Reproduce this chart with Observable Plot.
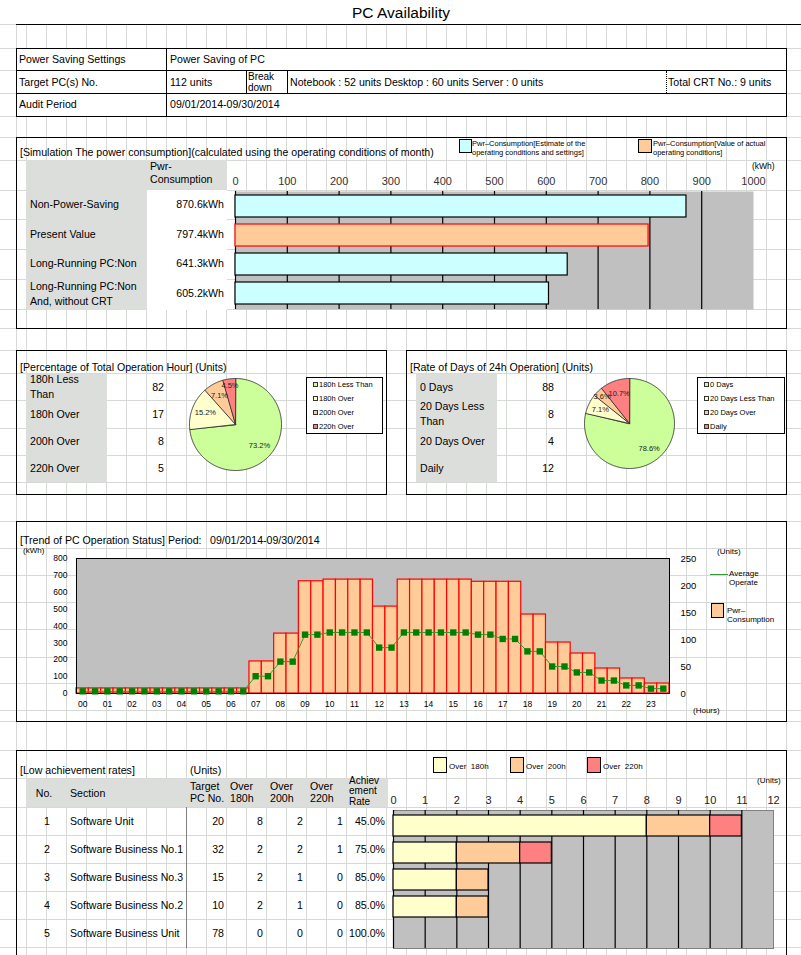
<!DOCTYPE html>
<html><head><meta charset="utf-8">
<script src="https://cdn.jsdelivr.net/npm/d3@7"></script>
<script src="https://cdn.jsdelivr.net/npm/@observablehq/plot@0.6"></script>
<style>
html,body{margin:0;padding:0;background:#fff;}
#page{position:relative;width:801px;height:955px;overflow:hidden;}
</style></head>
<body><div id="page"></div>
<script>
// ---------------- DATA ----------------
const headerLabels = ["Power Saving Settings","Target PC(s) No.","Audit Period"];
const headerValues = ["Power Saving of PC","112 units","09/01/2014-09/30/2014"];
const breakdownText = "Notebook : 52 units Desktop : 60 units Server : 0 units";
const crtText = "Total CRT No.: 9 units";

const simCategories = ["Non-Power-Saving","Present Value","Long-Running PC:Non","Long-Running PC:Non\nAnd, without CRT"];
const simValues = [870.6, 797.4, 641.3, 605.2];
const simKinds = ["estimate","actual","estimate","estimate"];
const simTicks = [0,100,200,300,400,500,600,700,800,900,1000];
const simGrid = [0,100,200,300,400,500,600,700,800,900];

const hourCategories = ["180h Less Than","180h Over","200h Over","220h Over"];
const hourTableLabels = ["180h Less\nThan","180h Over","200h Over","220h Over"];
const hourUnits = [82,17,8,5];
const dayCategories = ["0 Days","20 Days Less Than","20 Days Over","Daily"];
const dayTableLabels = ["0 Days","20 Days Less\nThan","20 Days Over","Daily"];
const dayUnits = [88,8,4,12];

const trendHours = ["00","01","02","03","04","05","06","07","08","09","10","11","12","13","14","15","16","17","18","19","20","21","22","23"];
const trendKwh = [30,30,30,30,30,30,30,30,30,30,30,30,30,30,190,190,355,355,665,665,675,675,675,675,515,515,675,675,675,675,675,675,662,662,662,662,468,468,302,302,237,237,148,148,89,89,59,59];
const trendUnits = [4,4,4,4,4,4,4,4,4,4,4,4,4,4,32,32,59,59,109,109,113,113,113,113,85,85,113,113,113,113,113,113,109,109,101,101,78,78,50,50,39,39,24,24,15,15,9,9];
const kwhTicks = [0,100,200,300,400,500,600,700,800];
const unitAxisTicks = [0,50,100,150,200,250];

const sectionNos = [1,2,3,4,5];
const sectionNames = ["Software Unit","Software Business No.1","Software Business No.3","Software Business No.2","Software Business Unit"];
const targetPCs = [20,32,15,10,78];
const over180 = [8,2,2,2,0];
const over200 = [2,2,1,1,0];
const over220 = [1,1,0,0,0];
const achievementRates = ["45.0%","75.0%","85.0%","85.0%","100.0%"];
const overLabels = ["Over 180h","Over 200h","Over 220h"];
const achTicks = [0,1,2,3,4,5,6,7,8,9,10,11,12];

// ---------------- STYLE ----------------
const C_CYAN="#ccffff", C_ORANGE="#ffcc99", C_RED="#ff8080", C_GREEN="#ccff99", C_YELLOW="#ffffcc";
const C_PLOTBG="#c0c0c0", C_CELL="#dcdedc", C_GRID="#d6d9d6";
const pieColors=[C_GREEN,C_YELLOW,C_ORANGE,C_RED];
const overColors=[C_YELLOW,C_ORANGE,C_RED];

function hasFont(name){const c=document.createElement("canvas").getContext("2d");const s="abcdefghijklmnopqrstuvwxyz ABCDEFG0123456789";c.font="20px monospace";const a=c.measureText(s).width;c.font=`20px "${name}", monospace`;return Math.abs(c.measureText(s).width-a)>0.5;}
const NARROW=hasFont("Liberation Sans Narrow");
const F=NARROW?'"Liberation Sans Narrow", "Liberation Sans", sans-serif':'"Liberation Sans", Arial, sans-serif';
const FS=NARROW?12:10.6;
const FSM='"Liberation Sans", Arial, sans-serif';

const page=document.getElementById("page");
function div(x,y,w,h,css){const e=document.createElement("div");Object.assign(e.style,{position:"absolute",left:x+"px",top:y+"px",width:w+"px",height:h+"px",boxSizing:"border-box"},css||{});page.appendChild(e);return e;}
// y = vertical centre of the FIRST line
function txt(x,y,s,o){o=o||{};const size=o.size||FS,lh=o.lh||Math.round(size*1.2);const e=document.createElement("div");
  Object.assign(e.style,{position:"absolute",left:x+"px",top:(y-lh/2)+"px",font:`${size}px ${o.family||F}`,lineHeight:lh+"px",whiteSpace:"pre",color:o.color||"#000",textAlign:o.align||"left",transform:o.align==="right"?"translateX(-100%)":o.align==="center"?"translateX(-50%)":"none"});
  e.textContent=s;page.appendChild(e);return e;}
function mount(x,y,svg){const d=document.createElement("div");Object.assign(d.style,{position:"absolute",left:x+"px",top:y+"px"});d.appendChild(svg);page.appendChild(d);}
const plotStyle={background:"transparent",fontFamily:FSM,overflow:"visible",maxWidth:"none"};

// ---------------- SPREADSHEET GRID ----------------
const gridYs=[24,48,70,93,116,137,160,190,219,249,279,309,328,350,373,400,428,455,482,494,521,548,575,602,629,657,683,710,721,750,778,807,835,863,891,919,947];
gridYs.forEach(y=>div(0,y,801,1,{background:C_GRID}));
[16].concat(d3.range(26,801,20)).forEach(x=>div(x,24,1,931,{background:C_GRID}));

// ---------------- TITLE ----------------
txt(401,12,"PC Availability",{size:15.5,align:"center",family:FSM});
div(16,24,785,1,{background:"#000"});

// ---------------- HEADER TABLE ----------------
div(16,48,771,69,{background:"#fff",border:"1px solid #000"});
div(16,70,771,1,{background:"#000"});div(16,93,771,1,{background:"#000"});
div(166,48,1,69,{background:"#000"});
div(246,70,1,23,{background:"#000"});div(287,70,1,23,{background:"#000"});
div(666,71,1,22,{borderLeft:"1px dotted #000"});
[59.5,82,104.5].forEach((y,i)=>{txt(19,y,headerLabels[i]);txt(170,y,headerValues[i]);});
txt(248,76.5,"Break\ndown",{size:10,lh:11});
txt(290,82,breakdownText);
txt(668,82,crtText);

// ---------------- SIMULATION ----------------
div(16,137,771,192,{border:"1px solid #000"});
txt(20,152,"[Simulation The power consumption](calculated using the operating conditions of month)");
div(459,139,13,14,{background:C_CYAN,border:"1px solid #000"});
txt(472,143.5,"Pwr–Consumption[Estimate of the\noperating conditions and settings]",{size:7.5,lh:9,family:FSM});
div(638,139,14,14,{background:C_ORANGE,border:"1px solid #000"});
txt(653,143.5,"Pwr–Consumption[Value of actual\noperating conditions]",{size:7.5,lh:9,family:FSM});
txt(752,166,"(kWh)",{size:8.5,family:FSM});
div(26,160,201,30,{background:C_CELL});
txt(150,166.5,"Pwr-\nConsumption",{lh:13});
div(26,190,121,120,{background:C_CELL});
div(147,190,80,120,{background:"#fff"});
simCategories.forEach((c,i)=>{const y=204.5+i*29.7;const multi=c.includes("\n");txt(30,multi?y-7.5:y,c,{lh:15});txt(224,y,simValues[i].toFixed(1)+"kWh",{align:"right"});});

const simData=simCategories.map((c,i)=>({cat:c,value:simValues[i],kind:simKinds[i]}));
mount(200,155,Plot.plot({
  width:580,height:160,marginLeft:35,marginRight:27,marginTop:36,marginBottom:6,
  style:plotStyle,
  x:{domain:[0,1000],label:null},
  y:{domain:simCategories,paddingInner:0.24,paddingOuter:0.15,axis:null,label:null},
  marks:[
    Plot.frame({fill:C_PLOTBG,stroke:"none"}),
    Plot.ruleX(simGrid,{stroke:"#000",strokeWidth:1.2}),
    Plot.barX(simData,{x:"value",y:"cat",fill:d=>d.kind==="actual"?C_ORANGE:C_CYAN,stroke:d=>d.kind==="actual"?"#ff0000":"#000",strokeWidth:1.2}),
    Plot.axisX(simTicks,{anchor:"top",tickSize:0,tickPadding:7,fontSize:11,fill:"#333",tickFormat:d=>String(d),label:null})
  ]
}));

// ---------------- PIES ----------------
function pieSection(bx,bw,title,labels,units,cats,cx,cy,r,legendX,legendW){
  div(bx,350,bw,145,{border:"1px solid #000"});
  txt(bx+4,367,title);
  div(bx+10,374,81,108,{background:C_CELL});
  const ys=[387,414,441,468];
  labels.forEach((l,i)=>{const multi=l.includes("\n");txt(bx+14,multi?ys[i]-7.5:ys[i],l,{lh:15});txt(bx+148,ys[i],String(units[i]),{align:"right"});});
  const total=d3.sum(units);
  const arcs=d3.pie().sort(null)(units);
  const pts=[],lab=[];
  arcs.forEach((a,i)=>{
    pts.push({k:i,x:0,y:0});
    const span=a.endAngle-a.startAngle;
    const n=Math.max(2,Math.ceil(span*180/Math.PI));
    for(let j=0;j<=n;j++){const t=a.startAngle+span*j/n;pts.push({k:i,x:Math.sin(t),y:Math.cos(t)});}
    const m=(a.startAngle+a.endAngle)/2;
    const rr=span<0.3?0.86:span<0.5?0.72:0.7;
    lab.push({x:rr*Math.sin(m),y:rr*Math.cos(m),t:(units[i]/total*100).toFixed(1)+"%"});
  });
  const S=2*r+10;
  mount(cx-S/2,cy-S/2,Plot.plot({
    width:S,height:S,margin:5,style:plotStyle,
    x:{domain:[-1,1],axis:null},y:{domain:[-1,1],axis:null},
    color:{type:"identity"},
    marks:[
      Plot.line(pts,{x:"x",y:"y",z:"k",fill:d=>pieColors[d.k],stroke:"#333",strokeWidth:0.9,curve:"linear-closed"}),
      Plot.text(lab,{x:"x",y:"y",text:"t",fontSize:7.5,fill:"#222"})
    ]
  }));
  div(legendX,377,legendW,57,{background:"#fff",border:"1px solid #000"});
  cats.forEach((c,i)=>{const y=384+i*14;div(legendX+7,y-2.5,5,5,{background:pieColors[i],border:"1px solid #333"});txt(legendX+13,y,c,{size:7.5,family:FSM});});
}
pieSection(16,371,"[Percentage of Total Operation Hour] (Units)",hourTableLabels,hourUnits,hourCategories,235,424,46,306,77);
pieSection(406,381,"[Rate of Days of 24h Operation] (Units)",dayTableLabels,dayUnits,dayCategories,629,423,45,697,88);

// ---------------- TREND ----------------
div(16,521,771,201,{border:"1px solid #000"});
txt(20,540,"[Trend of PC Operation Status] Period:");
txt(210,540,"09/01/2014-09/30/2014");
txt(23,551,"(kWh)",{size:8,family:FSM});
txt(717,552,"(Units)",{size:8,family:FSM});
div(710,574,18,1,{background:"#339933"});
txt(729,573,"Average\nOperate",{size:8,lh:9,family:FSM});
div(711,603,13,15,{background:C_ORANGE,border:"1px solid #000"});
txt(727,610,"Pwr–\nConsumption",{size:8,lh:9,family:FSM});
txt(693,711,"(Hours)",{size:8,family:FSM});

const UNIT_TO_KWH=800/250;
const trendData=trendKwh.map((v,i)=>({slot:i,kwh:v,units:trendUnits[i]}));
mount(16,545,Plot.plot({
  width:700,height:175,marginLeft:60,marginRight:47,marginTop:13,marginBottom:27,
  style:plotStyle,
  x:{domain:[0,48],axis:null,label:null},
  y:{domain:[0,800],axis:null,label:null},
  marks:[
    Plot.frame({fill:C_PLOTBG,stroke:"none"}),
    Plot.rectY(trendData,{x1:"slot",x2:d=>d.slot+1,y:"kwh",fill:C_ORANGE,stroke:"#ff0000",strokeWidth:1.2}),
    Plot.frame({stroke:"#000",strokeWidth:1}),
    Plot.line(trendData,{x:d=>d.slot+0.5,y:d=>d.units*UNIT_TO_KWH,stroke:"#339933",strokeWidth:1}),
    Plot.dot(trendData,{x:d=>d.slot+0.5,y:d=>d.units*UNIT_TO_KWH,symbol:"square",r:3.6,fill:"#008000",stroke:"none"}),
    Plot.axisY(kwhTicks,{anchor:"left",tickSize:0,tickPadding:9,fontSize:8.5,label:null}),
    Plot.axisY(unitAxisTicks.map(u=>u*UNIT_TO_KWH),{anchor:"right",tickSize:0,tickPadding:11,fontSize:9.5,tickFormat:d=>String(Math.round(d/UNIT_TO_KWH)),label:null}),
    Plot.axisX(trendHours.map((h,i)=>i*2+0.5),{anchor:"bottom",tickSize:0,tickPadding:7,fontSize:8.5,tickFormat:d=>trendHours[(d-0.5)/2],label:null})
  ]
}));

// ---------------- LOW ACHIEVEMENT ----------------
div(16,750,771,215,{border:"1px solid #000"});
txt(20,770,"[Low achievement rates]");
txt(190,770,"(Units)");
div(26,779,362,28,{background:C_CELL});
txt(44,793,"No.",{align:"center"});
txt(70,793,"Section");
txt(190,786,"Target\nPC No.",{lh:12});
txt(230,786,"Over\n180h",{lh:12});
txt(270,786,"Over\n200h",{lh:12});
txt(310,786,"Over\n220h",{lh:12});
txt(349,781,"Achiev\nement\nRate",{size:NARROW?11:10,lh:10.5});
div(186,807,1,141,{background:"#808080"});
sectionNames.forEach((s,i)=>{const y=821+i*28;
  txt(47,y,String(sectionNos[i]),{align:"center"});
  txt(70,y,s);
  txt(224,y,String(targetPCs[i]),{align:"right"});
  txt(263,y,String(over180[i]),{align:"right"});
  txt(303,y,String(over200[i]),{align:"right"});
  txt(343,y,String(over220[i]),{align:"right"});
  txt(385,y,achievementRates[i],{align:"right"});
});
overLabels.forEach((l,i)=>{const x=433+i*77;div(x,757,14,16,{background:overColors[i],border:"1px solid #000"});txt(x+16,767,l.replace(" ","  "),{size:8,family:FSM});});
txt(757,781,"(Units)",{size:8,family:FSM});

const achData=[];
sectionNames.forEach((s,i)=>{[over180[i],over200[i],over220[i]].forEach((v,j)=>{if(v>0)achData.push({section:s,cat:overLabels[j],value:v});});});
mount(380,785,Plot.plot({
  width:410,height:170,marginLeft:13,marginRight:17,marginTop:25,marginBottom:7,
  style:plotStyle,
  x:{domain:[0,12],label:null},
  y:{domain:sectionNames,paddingInner:0.24,paddingOuter:0.1,axis:null,label:null},
  color:{domain:overLabels,range:overColors},
  marks:[
    Plot.frame({fill:C_PLOTBG,stroke:"#808080"}),
    Plot.ruleX(achTicks.slice(0,12),{stroke:"#000",strokeWidth:1.2}),
    Plot.barX(achData,{x:"value",y:"section",fill:"cat",stroke:"#000",strokeWidth:1.2}),
    Plot.axisX(achTicks,{anchor:"top",tickSize:0,tickPadding:7,fontSize:11,fill:"#222",label:null})
  ]
}));
</script>
</body></html>
